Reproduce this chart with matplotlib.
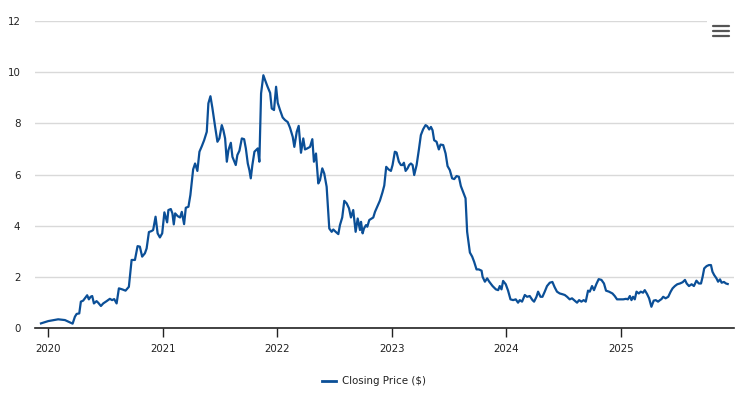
import matplotlib
matplotlib.use("Agg")
import matplotlib.pyplot as plt
from matplotlib.lines import Line2D
from matplotlib.patches import Rectangle
import pandas as pd
import numpy as np

# Decimal-year time stamps and closing prices
years = [
    2019.936, 2020.000, 2020.087, 2020.146, 2020.213, 2020.233, 2020.248, 2020.271, 2020.285, 2020.305,
    2020.320, 2020.340, 2020.355, 2020.370, 2020.384, 2020.399, 2020.422, 2020.436, 2020.460, 2020.480,
    2020.510, 2020.538, 2020.558, 2020.576, 2020.597, 2020.617, 2020.646, 2020.675, 2020.693, 2020.704,
    2020.728, 2020.757, 2020.780, 2020.800, 2020.820, 2020.844, 2020.859, 2020.879, 2020.902, 2020.916,
    2020.937, 2020.955, 2020.975, 2020.995, 2021.012, 2021.036, 2021.047, 2021.068, 2021.082, 2021.094,
    2021.106, 2021.129, 2021.149, 2021.164, 2021.184, 2021.199, 2021.222, 2021.239, 2021.263, 2021.280,
    2021.300, 2021.318, 2021.339, 2021.359, 2021.382, 2021.396, 2021.414, 2021.431, 2021.455, 2021.475,
    2021.492, 2021.513, 2021.527, 2021.542, 2021.557, 2021.571, 2021.592, 2021.606, 2021.623, 2021.635,
    2021.649, 2021.667, 2021.688, 2021.708, 2021.723, 2021.740, 2021.754, 2021.766, 2021.780, 2021.798,
    2021.818, 2021.827, 2021.841, 2021.856, 2021.876, 2021.891, 2021.911, 2021.935, 2021.949, 2021.969,
    2021.987, 2022.002, 2022.022, 2022.045, 2022.065, 2022.089, 2022.109, 2022.133, 2022.147, 2022.168,
    2022.185, 2022.205, 2022.225, 2022.240, 2022.260, 2022.284, 2022.304, 2022.318, 2022.336, 2022.356,
    2022.371, 2022.391, 2022.408, 2022.429, 2022.452, 2022.473, 2022.487, 2022.508, 2022.531, 2022.545,
    2022.565, 2022.583, 2022.604, 2022.624, 2022.641, 2022.661, 2022.682, 2022.700, 2022.720, 2022.729,
    2022.743, 2022.755, 2022.772, 2022.784, 2022.801, 2022.822, 2022.836, 2022.851, 2022.871, 2022.894,
    2022.916, 2022.932, 2022.949, 2022.969, 2022.990, 2023.005, 2023.025, 2023.040, 2023.060, 2023.078,
    2023.093, 2023.104, 2023.119, 2023.136, 2023.150, 2023.165, 2023.180, 2023.194, 2023.215, 2023.235,
    2023.252, 2023.272, 2023.293, 2023.307, 2023.325, 2023.340, 2023.354, 2023.368, 2023.389, 2023.409,
    2023.424, 2023.447, 2023.468, 2023.485, 2023.505, 2023.525, 2023.543, 2023.564, 2023.584, 2023.601,
    2023.621, 2023.642, 2023.656, 2023.680, 2023.700, 2023.717, 2023.738, 2023.758, 2023.782, 2023.791,
    2023.811, 2023.831, 2023.849, 2023.878, 2023.907, 2023.927, 2023.941, 2023.956, 2023.970, 2023.993,
    2024.014, 2024.035, 2024.058, 2024.081, 2024.101, 2024.116, 2024.136, 2024.160, 2024.180, 2024.203,
    2024.227, 2024.241, 2024.262, 2024.276, 2024.297, 2024.314, 2024.334, 2024.354, 2024.378, 2024.401,
    2024.421, 2024.441, 2024.465, 2024.489, 2024.509, 2024.529, 2024.552, 2024.572, 2024.596, 2024.616,
    2024.634, 2024.654, 2024.674, 2024.692, 2024.712, 2024.727, 2024.747, 2024.764, 2024.785, 2024.805,
    2024.829, 2024.851, 2024.869, 2024.895, 2024.925, 2024.945, 2024.965, 2024.989, 2025.017, 2025.041,
    2025.058, 2025.075, 2025.089, 2025.103, 2025.118, 2025.133, 2025.153, 2025.170, 2025.190, 2025.205,
    2025.225, 2025.243, 2025.263, 2025.283, 2025.301, 2025.321, 2025.338, 2025.351, 2025.366, 2025.387,
    2025.410, 2025.431, 2025.448, 2025.468, 2025.489, 2025.512, 2025.536, 2025.556, 2025.571, 2025.591,
    2025.614, 2025.634, 2025.656, 2025.677, 2025.696, 2025.710, 2025.724, 2025.745, 2025.765, 2025.783,
    2025.796, 2025.811, 2025.831, 2025.845, 2025.862, 2025.876, 2025.896, 2025.914, 2025.929,
]
prices = [
    0.18, 0.27, 0.34, 0.31, 0.17, 0.44, 0.55, 0.57, 1.03, 1.07,
    1.16, 1.28, 1.12, 1.22, 1.25, 0.96, 1.05, 0.99, 0.86, 0.96,
    1.05, 1.14, 1.09, 1.13, 0.96, 1.55, 1.51, 1.46, 1.55, 1.61,
    2.66, 2.66, 3.20, 3.18, 2.79, 2.92, 3.11, 3.75, 3.79, 3.83,
    4.35, 3.70, 3.54, 3.70, 4.52, 4.13, 4.61, 4.65, 4.48, 4.05,
    4.48, 4.37, 4.32, 4.54, 4.06, 4.70, 4.74, 5.20, 6.20, 6.43,
    6.14, 6.89, 7.11, 7.34, 7.67, 8.78, 9.06, 8.60, 7.86, 7.28,
    7.41, 7.93, 7.73, 7.41, 6.50, 6.95, 7.24, 6.69, 6.50, 6.37,
    6.76, 6.93, 7.41, 7.38, 7.02, 6.43, 6.17, 5.85, 6.37, 6.89,
    6.98, 7.02, 6.50, 9.17, 9.88, 9.69, 9.45, 9.19, 8.58, 8.52,
    9.43, 8.80, 8.52, 8.23, 8.13, 8.05, 7.83, 7.47, 7.08, 7.67,
    7.90, 6.85, 7.41, 6.98, 7.02, 7.08, 7.38, 6.50, 6.82, 5.65,
    5.78, 6.24, 6.04, 5.52, 3.89, 3.76, 3.85, 3.76, 3.67, 4.02,
    4.32, 4.97, 4.87, 4.68, 4.32, 4.61, 3.76, 4.28, 3.83, 4.15,
    3.70, 3.89, 4.02, 3.96, 4.22, 4.28, 4.32, 4.54, 4.74, 4.98,
    5.30, 5.57, 6.30, 6.20, 6.14, 6.37, 6.89, 6.86, 6.50, 6.37,
    6.37, 6.46, 6.14, 6.24, 6.37, 6.43, 6.37, 5.98, 6.37, 6.98,
    7.54, 7.77, 7.93, 7.89, 7.76, 7.86, 7.73, 7.34, 7.28, 6.98,
    7.17, 7.15, 6.82, 6.33, 6.17, 5.85, 5.82, 5.94, 5.91, 5.55,
    5.32, 5.07, 3.76, 2.95, 2.79, 2.59, 2.29, 2.29, 2.24, 2.00,
    1.81, 1.94, 1.81, 1.64, 1.51, 1.48, 1.64, 1.51, 1.84, 1.71,
    1.46, 1.12, 1.09, 1.12, 0.99, 1.09, 1.03, 1.29, 1.22, 1.25,
    1.09, 1.03, 1.22, 1.42, 1.22, 1.22, 1.42, 1.64, 1.77, 1.80,
    1.59, 1.42, 1.35, 1.32, 1.29, 1.22, 1.12, 1.16, 1.07, 0.99,
    1.09, 1.03, 1.09, 1.03, 1.46, 1.42, 1.64, 1.48, 1.72, 1.91,
    1.88, 1.74, 1.46, 1.42, 1.35, 1.25, 1.12, 1.12, 1.12, 1.14,
    1.12, 1.25, 1.09, 1.22, 1.12, 1.42, 1.35, 1.42, 1.38, 1.48,
    1.33, 1.16, 0.83, 1.07, 1.09, 1.03, 1.09, 1.13, 1.22, 1.16,
    1.22, 1.42, 1.55, 1.64, 1.71, 1.74, 1.79, 1.88, 1.74, 1.64,
    1.71, 1.64, 1.85, 1.74, 1.74, 2.00, 2.33, 2.42, 2.46, 2.46,
    2.20, 2.07, 1.94, 1.81, 1.90, 1.77, 1.80, 1.74, 1.72,
]
y_ticks = [0, 2, 4, 6, 8, 10, 12]
x_tick_years = [2020, 2021, 2022, 2023, 2024, 2025]
series_name = "Closing Price ($)"


def to_date(y):
    base = int(np.floor(y))
    return pd.Timestamp(f"{base}-01-01") + pd.Timedelta(days=(y - base) * 365.25)


dates = [to_date(y) for y in years]

plt.rcParams['font.family'] = ['DejaVu Sans']
W, H = 743, 405
fig = plt.figure(figsize=(W / 100, H / 100), dpi=100)
fig.patch.set_facecolor('white')

ax_left, ax_right, ax_top, ax_bot = 35, 734, 21, 328
ax = fig.add_axes([ax_left / W, 1 - ax_bot / H, (ax_right - ax_left) / W, (ax_bot - ax_top) / H])

line_color = '#0b4f97'
ax.plot(dates, prices, color=line_color, lw=1.6, solid_joinstyle='round', zorder=3)

ax.set_ylim(0, 12)
ax.set_yticks(y_ticks)
ax.set_xlim(to_date(2019.884), to_date(2025.984))
ax.set_xticks([pd.Timestamp(f"{y}-01-01") for y in x_tick_years])
ax.set_xticklabels([str(y) for y in x_tick_years])

ax.grid(axis='y', color='#d9d9d9', lw=1.0)
ax.grid(axis='x', visible=False)
ax.set_axisbelow(True)
for s in ['top', 'right', 'left']:
    ax.spines[s].set_visible(False)
ax.spines['bottom'].set_color('#222222')
ax.spines['bottom'].set_linewidth(1.2)

ax.tick_params(axis='y', length=0, pad=10.5, labelsize=7.4, labelcolor='#222222')
ax.tick_params(axis='x', direction='out', length=6.5, width=1.0, color='#222222',
               pad=5, labelsize=7.4, labelcolor='#222222')

# Legend
lx, ly = 322, 381
fig.add_artist(Line2D([lx / W, (lx + 14) / W], [1 - ly / H, 1 - ly / H], color=line_color, lw=2.0))
fig.text((lx + 20) / W, 1 - ly / H, series_name, fontsize=7.4, color='#222222', va='center', ha='left')

# Menu icon (covers end of top gridline)
fig.add_artist(Rectangle((707 / W, 1 - 40 / H), 28 / W, 22 / H, facecolor='white', edgecolor='none',
                         transform=fig.transFigure, zorder=5))
for yy in [25.5, 30.5, 35.5]:
    fig.add_artist(Line2D([713 / W, 729 / W], [1 - yy / H, 1 - yy / H], color='#555555', lw=1.6,
                          solid_capstyle='round', zorder=6))

fig.savefig('out.png', dpi=100, facecolor='white')
